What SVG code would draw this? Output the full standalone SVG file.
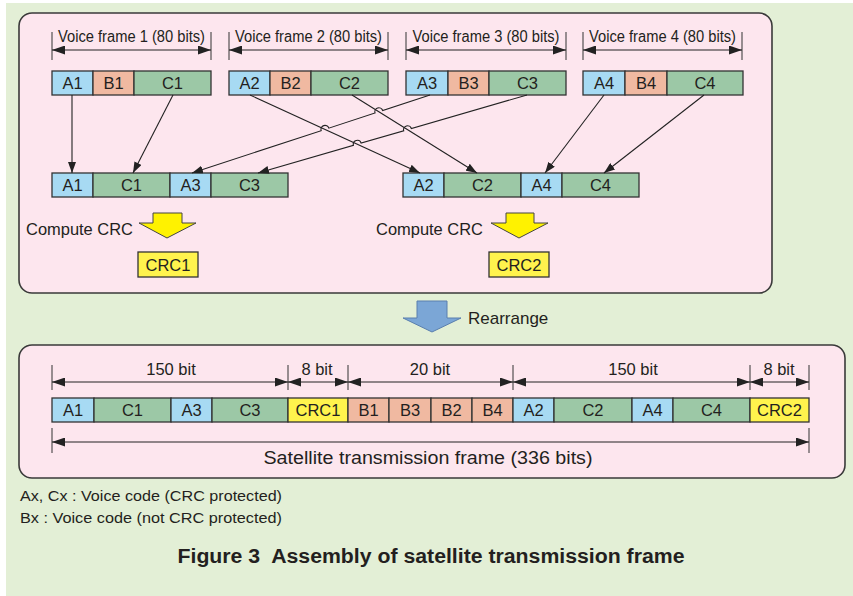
<svg xmlns="http://www.w3.org/2000/svg" width="853" height="596" viewBox="0 0 853 596">
<defs>
<marker id="ah" markerUnits="userSpaceOnUse" markerWidth="11" markerHeight="8" refX="11" refY="4" orient="auto-start-reverse"><path d="M0,0 L11,4 L0,8 z" fill="#222"/></marker>
<marker id="dh" markerUnits="userSpaceOnUse" markerWidth="13" markerHeight="9" refX="13" refY="4.5" orient="auto-start-reverse"><path d="M0,0 L13,4.5 L0,9 z" fill="#222"/></marker>
</defs>
<style>
text{font-family:"Liberation Sans",Arial,sans-serif;fill:#231f20}
.c{font-size:16.5px;text-anchor:middle}
.a{fill:#a7daf3;stroke:#333;stroke-width:1.3}
.b{fill:#f0b9a1;stroke:#333;stroke-width:1.3}
.g{fill:#9cc8a6;stroke:#333;stroke-width:1.3}
.y{fill:#fff34d;stroke:#333;stroke-width:1.3}
.panel{fill:#fde6ee;stroke:#3a3a3a;stroke-width:1.6}
.tk{stroke:#333;stroke-width:1}
.dim{stroke:#222;stroke-width:1;fill:none;marker-start:url(#dh);marker-end:url(#dh)}
.con{stroke:#222;stroke-width:1.1;fill:none;marker-end:url(#ah)}
.lbl{font-size:16px;text-anchor:middle}
.dl{font-size:16.5px;text-anchor:middle}
</style>
<rect x="6" y="3" width="847" height="593" fill="#e3efd6"/>
<g id="panel-top"><rect class="panel" x="19" y="13" width="753" height="280" rx="13"/></g>
<g id="panel-bottom"><rect class="panel" x="19" y="345" width="826" height="133" rx="13"/></g>

<g id="dims-voice">
<g id="dim-vf1"><line class="tk" x1="52" y1="32" x2="52" y2="60"/><line class="tk" x1="211" y1="32" x2="211" y2="60"/><line class="dim" x1="52" y1="50" x2="211" y2="50"/><text class="lbl" x="131.5" y="42" textLength="147" lengthAdjust="spacingAndGlyphs">Voice frame 1 (80 bits)</text></g>
<g id="dim-vf2"><line class="tk" x1="229" y1="32" x2="229" y2="60"/><line class="tk" x1="388" y1="32" x2="388" y2="60"/><line class="dim" x1="229" y1="50" x2="388" y2="50"/><text class="lbl" x="308.5" y="42" textLength="147" lengthAdjust="spacingAndGlyphs">Voice frame 2 (80 bits)</text></g>
<g id="dim-vf3"><line class="tk" x1="406" y1="32" x2="406" y2="60"/><line class="tk" x1="566" y1="32" x2="566" y2="60"/><line class="dim" x1="406" y1="50" x2="566" y2="50"/><text class="lbl" x="486" y="42" textLength="147" lengthAdjust="spacingAndGlyphs">Voice frame 3 (80 bits)</text></g>
<g id="dim-vf4"><line class="tk" x1="583" y1="32" x2="583" y2="60"/><line class="tk" x1="742" y1="32" x2="742" y2="60"/><line class="dim" x1="583" y1="50" x2="742" y2="50"/><text class="lbl" x="662.5" y="42" textLength="147" lengthAdjust="spacingAndGlyphs">Voice frame 4 (80 bits)</text></g>
</g>

<g id="frame1">
<rect class="a" x="52" y="71" width="41" height="24"/><text class="c" x="72.5" y="89">A1</text>
<rect class="b" x="93" y="71" width="41" height="24"/><text class="c" x="113.5" y="89">B1</text>
<rect class="g" x="134" y="71" width="77" height="24"/><text class="c" x="172.5" y="89">C1</text>
</g>
<g id="frame2">
<rect class="a" x="229" y="71" width="41" height="24"/><text class="c" x="249.5" y="89">A2</text>
<rect class="b" x="270" y="71" width="41" height="24"/><text class="c" x="290.5" y="89">B2</text>
<rect class="g" x="311" y="71" width="77" height="24"/><text class="c" x="349.5" y="89">C2</text>
</g>
<g id="frame3">
<rect class="a" x="406" y="71" width="42" height="24"/><text class="c" x="427" y="89">A3</text>
<rect class="b" x="448" y="71" width="41" height="24"/><text class="c" x="468.5" y="89">B3</text>
<rect class="g" x="489" y="71" width="77" height="24"/><text class="c" x="527.5" y="89">C3</text>
</g>
<g id="frame4">
<rect class="a" x="583" y="71" width="42" height="24"/><text class="c" x="604" y="89">A4</text>
<rect class="b" x="625" y="71" width="42" height="24"/><text class="c" x="646" y="89">B4</text>
<rect class="g" x="667" y="71" width="76" height="24"/><text class="c" x="705" y="89">C4</text>
</g>

<g id="group1">
<rect class="a" x="52" y="173" width="41" height="24"/><text class="c" x="72.5" y="191">A1</text>
<rect class="g" x="93" y="173" width="77" height="24"/><text class="c" x="131.5" y="191">C1</text>
<rect class="a" x="170" y="173" width="41" height="24"/><text class="c" x="190.5" y="191">A3</text>
<rect class="g" x="211" y="173" width="77" height="24"/><text class="c" x="249.5" y="191">C3</text>
</g>
<g id="group2">
<rect class="a" x="403" y="173" width="41" height="24"/><text class="c" x="423.5" y="191">A2</text>
<rect class="g" x="444" y="173" width="77" height="24"/><text class="c" x="482.5" y="191">C2</text>
<rect class="a" x="521" y="173" width="41" height="24"/><text class="c" x="541.5" y="191">A4</text>
<rect class="g" x="562" y="173" width="77" height="24"/><text class="c" x="600.5" y="191">C4</text>
</g>

<g id="connectors">
<path class="con" d="M72,95 L72,173"/>
<path class="con" d="M173,95 L133,173"/>
<path class="con" d="M250,95 L420,173"/>
<path class="con" d="M352,95 L477,173"/>
<path class="con" d="M430,95 L382.66,110.51 A4,4 0 0 0 375.06,113.01 L328.8,128.16 A4,4 0 0 0 321.2,130.66 L192,173"/>
<path class="con" d="M527,95 L411.36,128.53 A4,4 0 0 0 403.68,130.76 L361.11,143.11 A4,4 0 0 0 353.43,145.33 L258,173"/>
<path class="con" d="M604,95 L545,173"/>
<path class="con" d="M704,95 L604,173"/>
</g>

<g id="compute1">
<text x="26" y="235" font-size="16.5" textLength="107" lengthAdjust="spacingAndGlyphs">Compute CRC</text>
<path d="M153,213 L182,213 L182,223 L196,223 L167,238 L139,223 L153,223 Z" fill="#fff200" stroke="#444" stroke-width="1"/>
</g>
<g id="crc1"><rect class="y" x="138" y="252" width="60" height="25"/><text class="c" x="168" y="271">CRC1</text></g>
<g id="compute2">
<text x="376" y="235" font-size="16.5" textLength="107" lengthAdjust="spacingAndGlyphs">Compute CRC</text>
<path d="M506,213 L534,213 L534,223 L548,223 L519,238 L491,223 L506,223 Z" fill="#fff200" stroke="#444" stroke-width="1"/>
</g>
<g id="crc2"><rect class="y" x="489" y="252" width="60" height="25"/><text class="c" x="519" y="271">CRC2</text></g>

<g id="rearrange">
<path d="M417,301 L447,301 L447,318 L461,318 L432,332 L403,318 L417,318 Z" fill="#7ba6d6" stroke="#5a7fae" stroke-width="1"/>
<text x="468" y="324" font-size="17">Rearrange</text>
</g>

<g id="dims-bottom">
<line class="tk" x1="52" y1="365" x2="52" y2="390"/>
<line class="tk" x1="288" y1="365" x2="288" y2="390"/>
<line class="tk" x1="348" y1="365" x2="348" y2="390"/>
<line class="tk" x1="513" y1="365" x2="513" y2="390"/>
<line class="tk" x1="750" y1="365" x2="750" y2="390"/>
<line class="tk" x1="809" y1="365" x2="809" y2="390"/>
<line class="dim" x1="52" y1="382" x2="288" y2="382"/>
<line class="dim" x1="288" y1="382" x2="348" y2="382"/>
<line class="dim" x1="348" y1="382" x2="513" y2="382"/>
<line class="dim" x1="513" y1="382" x2="750" y2="382"/>
<line class="dim" x1="750" y1="382" x2="809" y2="382"/>
<text class="dl" x="171" y="375">150 bit</text>
<text class="dl" x="317" y="375">8 bit</text>
<text class="dl" x="430" y="375">20 bit</text>
<text class="dl" x="633" y="375">150 bit</text>
<text class="dl" x="779" y="375">8 bit</text>
</g>

<g id="sat-frame">
<rect class="a" x="52" y="398" width="42" height="24"/><text class="c" x="73" y="416">A1</text>
<rect class="g" x="94" y="398" width="77" height="24"/><text class="c" x="132.5" y="416">C1</text>
<rect class="a" x="171" y="398" width="41" height="24"/><text class="c" x="191.5" y="416">A3</text>
<rect class="g" x="212" y="398" width="76" height="24"/><text class="c" x="250" y="416">C3</text>
<rect class="y" x="288" y="398" width="60" height="24"/><text class="c" x="318" y="416">CRC1</text>
<rect class="b" x="348" y="398" width="41" height="24"/><text class="c" x="368.5" y="416">B1</text>
<rect class="b" x="389" y="398" width="42" height="24"/><text class="c" x="410" y="416">B3</text>
<rect class="b" x="431" y="398" width="41" height="24"/><text class="c" x="451.5" y="416">B2</text>
<rect class="b" x="472" y="398" width="41" height="24"/><text class="c" x="492.5" y="416">B4</text>
<rect class="a" x="513" y="398" width="41" height="24"/><text class="c" x="533.5" y="416">A2</text>
<rect class="g" x="554" y="398" width="78" height="24"/><text class="c" x="593" y="416">C2</text>
<rect class="a" x="632" y="398" width="41" height="24"/><text class="c" x="652.5" y="416">A4</text>
<rect class="g" x="673" y="398" width="77" height="24"/><text class="c" x="711.5" y="416">C4</text>
<rect class="y" x="750" y="398" width="59" height="24"/><text class="c" x="779.5" y="416">CRC2</text>
</g>

<g id="dim-total">
<line class="tk" x1="52" y1="428" x2="52" y2="453"/>
<line class="tk" x1="809" y1="428" x2="809" y2="453"/>
<line class="dim" x1="52" y1="442" x2="809" y2="442"/>
<text x="428" y="464" font-size="17.5" text-anchor="middle" textLength="329" lengthAdjust="spacingAndGlyphs">Satellite transmission frame (336 bits)</text>
</g>

<g id="legend">
<text x="20" y="501" font-size="15" textLength="262" lengthAdjust="spacingAndGlyphs">Ax, Cx : Voice code (CRC protected)</text>
<text x="20" y="523" font-size="15" textLength="262" lengthAdjust="spacingAndGlyphs">Bx : Voice code (not CRC protected)</text>
</g>
<g id="title">
<text x="431" y="563" font-size="20" font-weight="bold" text-anchor="middle" textLength="507" lengthAdjust="spacingAndGlyphs" xml:space="preserve">Figure 3  Assembly of satellite transmission frame</text>
</g>
</svg>
